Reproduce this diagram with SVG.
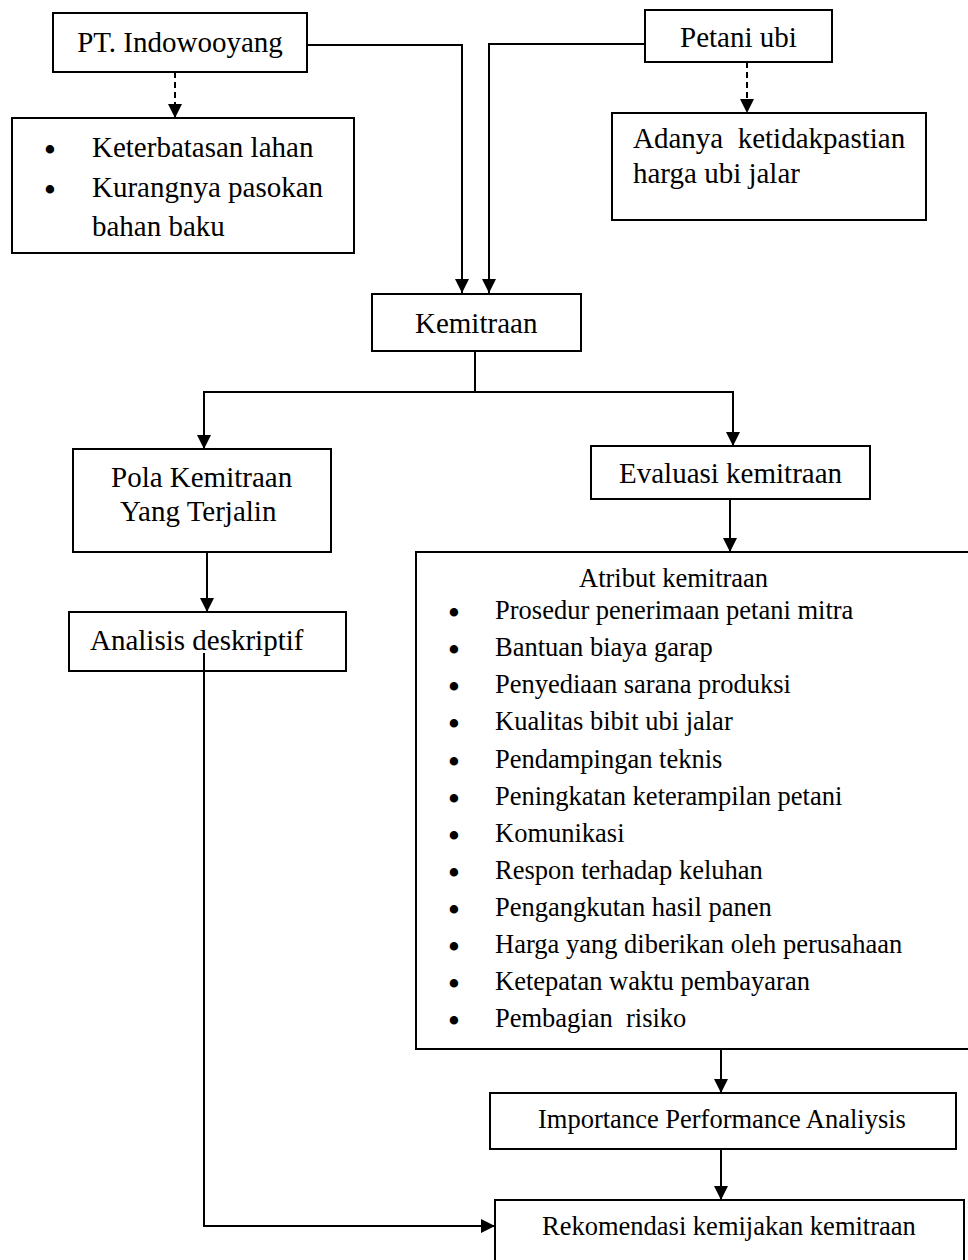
<svg xmlns="http://www.w3.org/2000/svg" width="968" height="1260" viewBox="0 0 968 1260">
<style>
.box{fill:#fff;stroke:#000;stroke-width:2}
.t{font-family:"Liberation Serif","Times New Roman",serif;fill:#000}
.big{font-size:29px}
.sm{font-size:26.5px}
.bl{font-family:"Liberation Serif","Times New Roman",serif;font-size:31px;font-weight:bold;text-anchor:middle;fill:#000}
.ln{fill:none;stroke:#000;stroke-width:2}
.arr{marker-end:url(#ah)}
.dash{stroke-dasharray:6,4}
</style>
<defs>
<marker id="ah" markerUnits="userSpaceOnUse" markerWidth="15" markerHeight="15" refX="14" refY="7" orient="auto">
<path d="M0,0 L14,7 L0,14 z" fill="#000"/>
</marker>
</defs>
<rect width="968" height="1260" fill="#fff"/>
<g id="pt">
<rect class="box" x="53" y="13" width="254" height="59"/>
<text class="t big" x="180" y="52" text-anchor="middle">PT. Indowooyang</text>
</g>
<g id="masalah-pt">
<rect class="box" x="12" y="118" width="342" height="135"/>
<text class="bl" x="50" y="160">•</text>
<text class="t big" x="92" y="157">Keterbatasan lahan</text>
<text class="bl" x="50" y="200">•</text>
<text class="t big" x="92" y="197">Kurangnya pasokan</text>
<text class="t big" x="92" y="236">bahan baku</text>
</g>
<g id="petani">
<rect class="box" x="645" y="10" width="187" height="52"/>
<text class="t big" x="680" y="47">Petani ubi</text>
</g>
<g id="masalah-petani">
<rect class="box" x="612" y="113" width="314" height="107"/>
<text class="t big" x="633" y="148" xml:space="preserve" style="white-space:pre">Adanya  ketidakpastian</text>
<text class="t big" x="633" y="183">harga ubi jalar</text>
</g>
<g id="kemitraan">
<rect class="box" x="372" y="294" width="209" height="57"/>
<text class="t big" x="415" y="333">Kemitraan</text>
</g>
<g id="pola">
<rect class="box" x="73" y="449" width="258" height="103"/>
<text class="t big" x="111" y="487">Pola Kemitraan</text>
<text class="t big" x="120" y="521">Yang Terjalin</text>
</g>
<g id="evaluasi">
<rect class="box" x="591" y="446" width="279" height="53"/>
<text class="t big" x="619" y="483">Evaluasi kemitraan</text>
</g>
<g id="analisis">
<rect class="box" x="69" y="612" width="277" height="59"/>
<text class="t big" x="90" y="650">Analisis deskriptif</text>
</g>
<g id="atribut">
<rect class="box" x="416" y="552" width="570" height="497"/>
<text class="t sm" x="579" y="587">Atribut kemitraan</text>
<g class="bl">
<text x="454" y="623">•</text>
<text x="454" y="660">•</text>
<text x="454" y="697">•</text>
<text x="454" y="734">•</text>
<text x="454" y="772">•</text>
<text x="454" y="809">•</text>
<text x="454" y="846">•</text>
<text x="454" y="883">•</text>
<text x="454" y="920">•</text>
<text x="454" y="957">•</text>
<text x="454" y="994">•</text>
<text x="454" y="1031">•</text>
</g>
<g class="t sm">
<text x="495" y="619">Prosedur penerimaan petani mitra</text>
<text x="495" y="656">Bantuan biaya garap</text>
<text x="495" y="693">Penyediaan sarana produksi</text>
<text x="495" y="730">Kualitas bibit ubi jalar</text>
<text x="495" y="768">Pendampingan teknis</text>
<text x="495" y="805">Peningkatan keterampilan petani</text>
<text x="495" y="842">Komunikasi</text>
<text x="495" y="879">Respon terhadap keluhan</text>
<text x="495" y="916">Pengangkutan hasil panen</text>
<text x="495" y="953">Harga yang diberikan oleh perusahaan</text>
<text x="495" y="990">Ketepatan waktu pembayaran</text>
<text x="495" y="1027" xml:space="preserve" style="white-space:pre">Pembagian  risiko</text>
</g>
</g>
<g id="ipa">
<rect class="box" x="490" y="1093" width="466" height="56"/>
<text class="t sm" x="538" y="1128">Importance Performance Analiysis</text>
</g>
<g id="rekomendasi">
<rect class="box" x="495" y="1200" width="469" height="90"/>
<text class="t sm" x="542" y="1235">Rekomendasi kemijakan kemitraan</text>
</g>
<g id="connectors">
<path class="ln arr" d="M307,45 H462 V293"/>
<path class="ln arr" d="M645,44 H489 V293"/>
<path class="ln dash arr" d="M175,72 V118"/>
<path class="ln dash arr" d="M747,62 V113"/>
<path class="ln" d="M475,351 V392"/>
<path class="ln" d="M203,392 H734"/>
<path class="ln arr" d="M204,392 V449"/>
<path class="ln arr" d="M733,392 V446"/>
<path class="ln arr" d="M730,499 V552"/>
<path class="ln arr" d="M207,552 V612"/>
<path class="ln arr" d="M204,653 V1226 H495"/>
<path class="ln arr" d="M721,1049 V1093"/>
<path class="ln arr" d="M721,1149 V1200"/>
</g>
</svg>
